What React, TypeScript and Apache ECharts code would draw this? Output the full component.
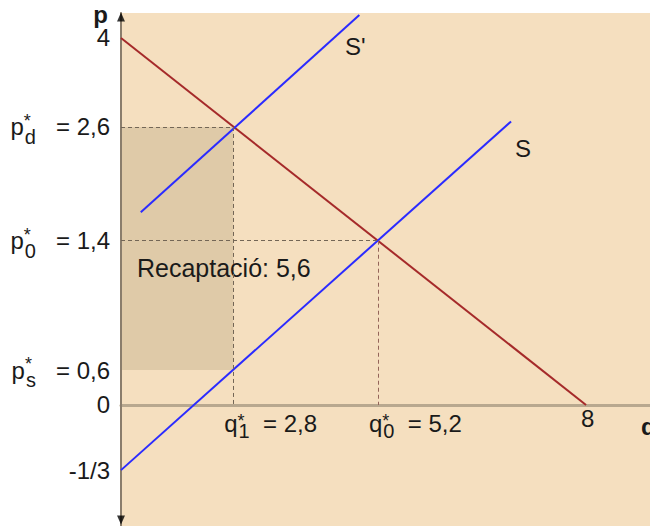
import { useEffect, useRef } from "react";
import * as echarts from "echarts";

const FONT = "'Liberation Sans', Arial, sans-serif";
const TEXT = "#1a1a1a";

// Drawing coordinates (the reference sketch is schematic, not to scale)
const demandQ = [0, 8];
const demandP = [4, 0];
const supplyQ = [0, 6.71];
const supplyP = [-0.71, 3.09];
const taxSupplyQ = [0.34, 4.1];
const taxSupplyP = [2.1, 4.25];

const q1 = 1.93;
const q0 = 4.42;
const pD = 3.03;
const p0 = 1.79;
const pS = 0.38;
const pIntercept = -0.71;

const xMin = 0;
const xMax = 9.1;
const yMin = -1.319;
const yMax = 4.272;

const yTickValues = [4, pD, p0, pS, 0, pIntercept];
const yTickBase = ["", "p", "p", "p", "", ""];
const yTickSub = ["", "d", "0", "s", "", ""];
const yTickText = ["4", "= 2,6", "= 1,4", "= 0,6", "0", "-1/3"];

const xTickValues = [q1, q0, 8];
const xTickBase = ["q", "q", ""];
const xTickSub = ["1", "0", ""];
const xTickText = ["= 2,8", "= 5,2", "8"];

const revenueLabel = "Recaptació: 5,6";
const demandName = "D";
const supplyName = "S";
const taxSupplyName = "S'";

const GRID_TOP = 13;
const GRID_HEIGHT = 513;

function richLabel(base: string, sub: string, text: string, plain: string, gap: string) {
  if (!base) return `{${plain}|${text}}`;
  return `{b|${base}}{st|*}{sb|${sub}}{t|${gap}${text}}`;
}

function findIndex(values: number[], v: number) {
  let best = 0;
  let d = Infinity;
  values.forEach((x, i) => {
    const dd = Math.abs(x - v);
    if (dd < d) {
      d = dd;
      best = i;
    }
  });
  return best;
}

const richBase = {
  b: { fontSize: 24, fontFamily: FONT, color: TEXT, align: "left", lineHeight: 40, verticalAlign: "middle" },
  st: { fontSize: 18, fontFamily: FONT, color: TEXT, width: 1, align: "left", verticalAlign: "top", padding: [5, 0, 0, 0] },
  sb: { fontSize: 20, fontFamily: FONT, color: TEXT, align: "left", verticalAlign: "bottom" },
  t: { fontSize: 24, fontFamily: FONT, color: TEXT, align: "left", verticalAlign: "middle" },
  e: { fontSize: 24, fontFamily: FONT, color: TEXT, align: "left", verticalAlign: "middle", padding: [0, 0, 0, 4] },
};

function pairs(qs: number[], ps: number[]) {
  return qs.map((q, i) => [q, ps[i]]);
}

export default function App() {
  const ref = useRef<HTMLDivElement>(null);

  useEffect(() => {
    if (!ref.current) return;
    const chart = echarts.init(ref.current, null, { renderer: "svg" });

    const dashStyle = { color: "#736656", width: 1, type: [4, 3] as any };
    // put the q axis (with its labels) at p = 0
    const xAxisOffset = -((0 - yMin) / (yMax - yMin)) * GRID_HEIGHT;

    const endLabel = (name: string, offset: number[]) => ({
      show: true,
      formatter: name,
      distance: 0,
      align: "center",
      verticalAlign: "middle",
      offset,
      fontFamily: FONT,
      fontSize: 24,
      color: TEXT,
    });

    chart.setOption({
      animation: false,
      backgroundColor: "#ffffff",
      grid: {
        left: 121,
        right: 0,
        top: GRID_TOP,
        height: GRID_HEIGHT,
        show: true,
        backgroundColor: "#f5dfbf",
        borderWidth: 0,
        containLabel: false,
        outerBoundsMode: "none",
      },
      xAxis: {
        type: "value",
        min: xMin,
        max: xMax,
        position: "bottom",
        offset: xAxisOffset,
        name: "q",
        nameLocation: "end",
        nameGap: -9,
        nameTextStyle: {
          fontFamily: FONT,
          fontSize: 24,
          fontWeight: "bold",
          color: TEXT,
          align: "left",
          verticalAlign: "top",
          padding: [10, 0, 0, 0],
        },
        axisLine: { show: true, onZero: false, lineStyle: { color: "#b8a88f", width: 3 } },
        axisTick: { show: false },
        splitLine: { show: false },
        axisLabel: {
          customValues: xTickValues,
          margin: 2,
          align: "left",
          verticalAlign: "top",
          padding: [0, 0, 0, -9],
          fontFamily: FONT,
          fontSize: 24,
          color: TEXT,
          formatter: (v: number) => {
            const i = findIndex(xTickValues, v);
            return richLabel(xTickBase[i], xTickSub[i], xTickText[i], "e", "  ");
          },
          rich: {
            ...richBase,
            b: { ...richBase.b, lineHeight: 34 },
          },
        },
      },
      yAxis: {
        type: "value",
        min: yMin,
        max: yMax,
        z: 2,
        name: "p",
        nameLocation: "end",
        nameGap: -25,
        nameTextStyle: {
          fontFamily: FONT,
          fontSize: 24,
          fontWeight: "bold",
          color: TEXT,
          align: "right",
          verticalAlign: "bottom",
          padding: [0, 13, 0, 0],
        },
        axisLine: { show: true, onZero: false, lineStyle: { color: "#8a7d6c", width: 2 } },
        axisTick: { show: false },
        splitLine: { show: false },
        axisLabel: {
          customValues: yTickValues,
          margin: 11,
          align: "right",
          fontFamily: FONT,
          fontSize: 24,
          color: TEXT,
          formatter: (v: number) => {
            const i = findIndex(yTickValues, v);
            return richLabel(yTickBase[i], yTickSub[i], yTickText[i], "t", "   ");
          },
          rich: richBase,
        },
      },
      series: [
        {
          name: demandName,
          type: "line",
          data: pairs(demandQ, demandP),
          symbol: "none",
          lineStyle: { color: "#a52a2a", width: 2 },
          markArea: {
            silent: true,
            itemStyle: { color: "#dfcaa8" },
            label: {
              show: true,
              formatter: revenueLabel,
              position: [16, 129],
              fontFamily: FONT,
              fontSize: 25,
              color: TEXT,
            },
            data: [[{ coord: [0, pD] }, { coord: [q1, pS] }]],
          },
          markLine: {
            silent: true,
            symbol: "none",
            label: { show: false },
            lineStyle: dashStyle,
            data: [
              [{ coord: [0, pD] }, { coord: [q1, pD] }],
              [{ coord: [q1, pD] }, { coord: [q1, 0] }],
              [{ coord: [0, p0] }, { coord: [q0, p0] }],
              [{ coord: [q0, p0] }, { coord: [q0, 0], lineStyle: { color: "#94655a" } }],
            ],
          },
        },
        {
          name: supplyName,
          type: "line",
          data: pairs(supplyQ, supplyP),
          symbol: "none",
          lineStyle: { color: "#2b2bff", width: 2 },
          endLabel: endLabel(supplyName, [12, 27]),
        },
        {
          name: taxSupplyName,
          type: "line",
          data: pairs(taxSupplyQ, taxSupplyP),
          symbol: "none",
          lineStyle: { color: "#2b2bff", width: 2 },
          endLabel: endLabel(taxSupplyName, [-4, 31]),
        },
        {
          name: "arrows",
          type: "scatter",
          silent: true,
          clip: false,
          z: 4,
          symbol: "triangle",
          symbolSize: [8, 9],
          itemStyle: { color: "#000000" },
          data: [
            { value: [0, yMax], symbolOffset: [0, 4] },
            { value: [0, yMin], symbolRotate: 180, symbolOffset: [0, -6] },
            { value: [xMax, 0], symbolRotate: -90, symbolOffset: [6, 0] },
          ],
        },
      ],
    });

    return () => chart.dispose();
  }, []);

  return (
    <div
      ref={ref}
      style={{ position: "absolute", left: 0, top: 0, width: 650, height: 526 }}
    />
  );
}
